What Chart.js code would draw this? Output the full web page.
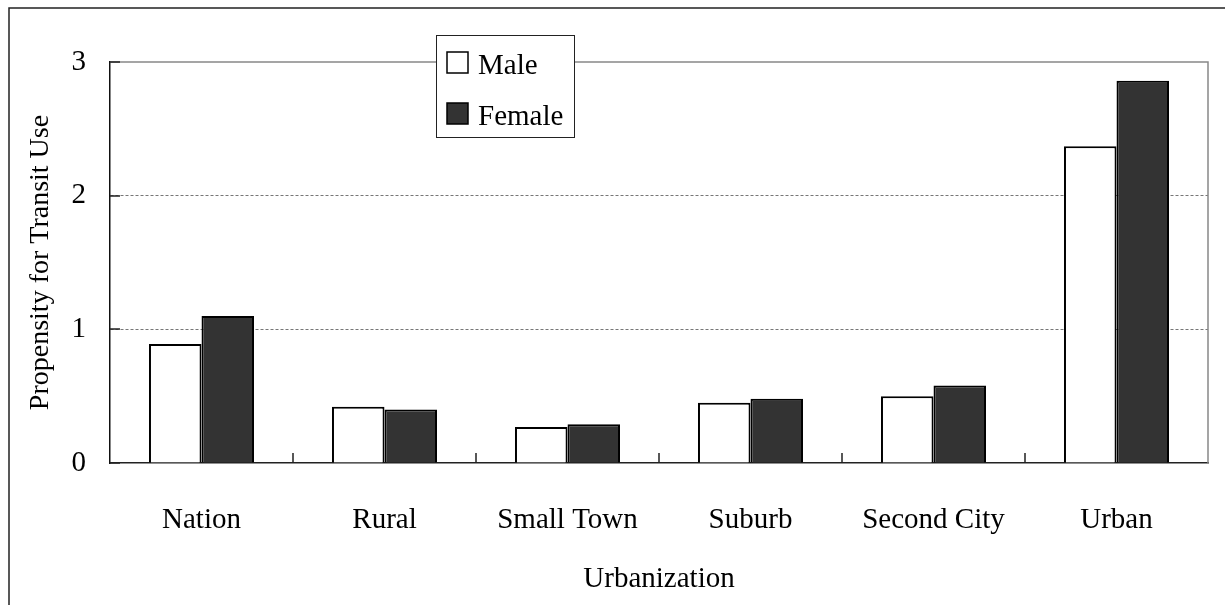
<!DOCTYPE html>
<html>
<head>
<meta charset="utf-8">
<script src="https://cdn.jsdelivr.net/npm/chart.js@4.4.1/dist/chart.umd.min.js"></script>
<style>
  html, body { margin: 0; padding: 0; background: #fff; }
  #wrap { width: 1225px; height: 605px; }
</style>
</head>
<body>
<div id="wrap"><canvas id="chart" width="1225" height="605"></canvas></div>
<script>
const categories = ['Nation', 'Rural', 'Small Town', 'Suburb', 'Second City', 'Urban'];
const maleValues = [0.89, 0.42, 0.27, 0.45, 0.50, 2.37];
const femaleValues = [1.10, 0.40, 0.29, 0.48, 0.58, 2.86];
const yTicks = [0, 1, 2, 3];

const FONT = '"Liberation Serif", "Times New Roman", serif';

// frame, inner ticks, plot border and the floating legend box
const decorations = {
  id: 'decorations',
  beforeDraw(chart) {
    const ctx = chart.ctx;
    ctx.save();
    ctx.fillStyle = '#fff';
    ctx.fillRect(0, 0, chart.width, chart.height);
    ctx.strokeStyle = '#222';
    ctx.lineWidth = 1.5;
    ctx.beginPath();
    ctx.moveTo(9, chart.height);
    ctx.lineTo(9, 8);
    ctx.lineTo(chart.width, 8);
    ctx.stroke();
    ctx.restore();
  },
  afterDatasetsDraw(chart) {
    const ctx = chart.ctx;
    const area = chart.chartArea;
    const x = chart.scales.x;
    const y = chart.scales.y;
    ctx.save();

    // top and right edge of plot area
    ctx.strokeStyle = '#888';
    ctx.lineWidth = 1.5;
    ctx.beginPath();
    ctx.moveTo(area.left, area.top);
    ctx.lineTo(area.right, area.top);
    ctx.lineTo(area.right, area.bottom);
    ctx.stroke();

    // inward tick marks
    ctx.strokeStyle = '#222';
    ctx.lineWidth = 1.5;
    ctx.beginPath();
    const step = (area.right - area.left) / categories.length;
    for (let i = 1; i < categories.length; i++) {
      const px = Math.round(x.getPixelForValue(i) - step / 2);
      ctx.moveTo(px, area.bottom);
      ctx.lineTo(px, area.bottom - 10);
    }
    yTicks.forEach(v => {
      const py = Math.round(y.getPixelForValue(v));
      ctx.moveTo(area.left, py);
      ctx.lineTo(area.left + 10, py);
    });
    ctx.stroke();

    // legend
    const bx = 436, by = 35, bw = 138, bh = 102;
    ctx.fillStyle = '#fff';
    ctx.fillRect(bx, by, bw, bh);
    ctx.strokeStyle = '#222';
    ctx.lineWidth = 1;
    ctx.strokeRect(bx + 0.5, by + 0.5, bw, bh);
    ctx.font = '29px ' + FONT;
    ctx.textBaseline = 'alphabetic';
    ctx.textAlign = 'left';
    chart.data.datasets.forEach((ds, i) => {
      const sy = 52 + i * 51;
      ctx.fillStyle = ds.backgroundColor;
      ctx.fillRect(447, sy, 21, 21);
      ctx.strokeStyle = '#000';
      ctx.lineWidth = 1.5;
      ctx.strokeRect(447, sy, 21, 21);
      ctx.fillStyle = '#000';
      ctx.fillText(ds.label, 478, sy + 22);
    });
    ctx.restore();
  }
};

new Chart(document.getElementById('chart'), {
  type: 'bar',
  data: {
    labels: categories,
    datasets: [
      {
        label: 'Male',
        data: maleValues,
        backgroundColor: '#ffffff',
        borderColor: '#000000',
        borderWidth: 2,
        categoryPercentage: 0.574,
        barPercentage: 1.0
      },
      {
        label: 'Female',
        data: femaleValues,
        backgroundColor: '#333333',
        borderColor: '#000000',
        borderWidth: 2,
        categoryPercentage: 0.574,
        barPercentage: 1.0
      }
    ]
  },
  options: {
    responsive: false,
    animation: false,
    layout: { padding: { left: 0, top: 62, right: 17, bottom: 0 } },
    plugins: {
      legend: { display: false },
      tooltip: { enabled: false }
    },
    scales: {
      x: {
        grid: { display: false },
        border: { display: true, color: '#222', width: 1.5 },
        ticks: { color: '#000', font: { family: FONT, size: 29 }, padding: 32, maxRotation: 0 },
        title: {
          display: true,
          text: 'Urbanization',
          color: '#000',
          font: { family: FONT, size: 29 },
          padding: { top: 0, bottom: 8 }
        },
        afterFit: scale => { scale.height = 142; }
      },
      y: {
        min: 0,
        max: 3,
        afterBuildTicks: scale => { scale.ticks = yTicks.map(v => ({ value: v })); },
        grid: {
          drawTicks: false,
          color: ctx => (ctx.tick && (ctx.tick.value === 1 || ctx.tick.value === 2)) ? '#777' : 'rgba(0,0,0,0)',
          lineWidth: 1
        },
        border: { display: true, color: '#111', width: 1.5, dash: [3, 2] },
        ticks: { color: '#000', font: { family: FONT, size: 29 }, padding: 24 },
        title: {
          display: true,
          text: 'Propensity for Transit Use',
          color: '#000',
          font: { family: FONT, size: 28 },
          padding: { top: 24, bottom: 0 }
        },
        afterFit: scale => { scale.width = 110; }
      }
    }
  },
  plugins: [decorations]
});
</script>
</body>
</html>
